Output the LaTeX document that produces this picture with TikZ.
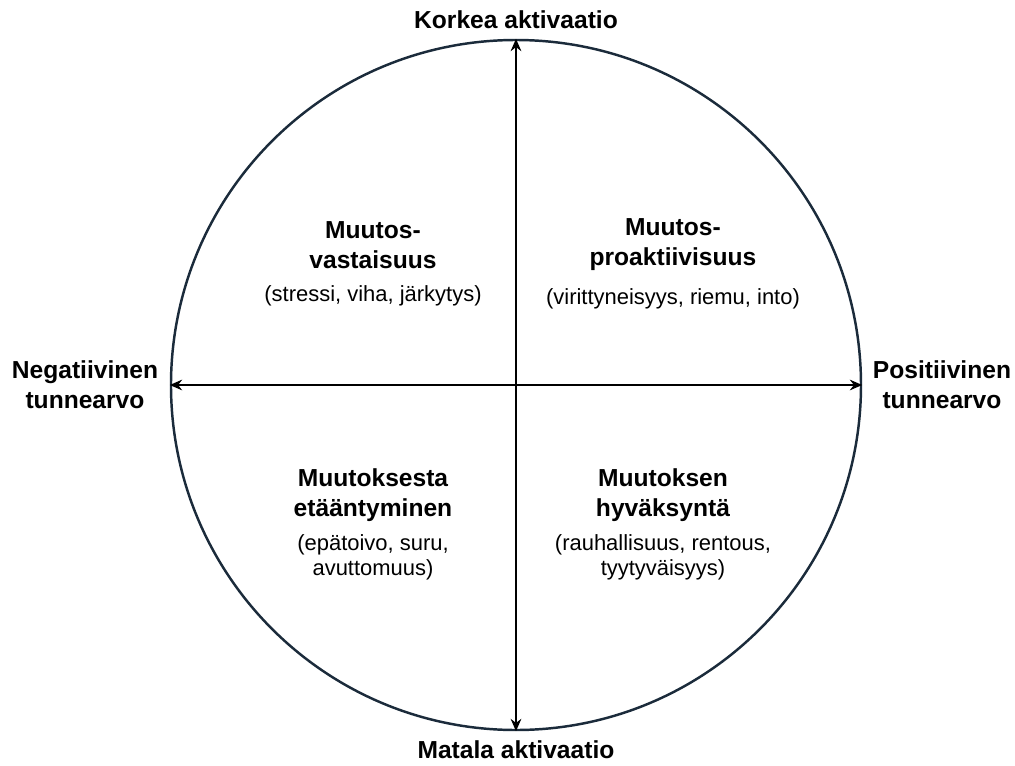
\documentclass[tikz,border=0pt]{standalone}
\usepackage{fontspec}
\setmainfont{Liberation Sans}
\usepackage{tikz}
\usetikzlibrary{arrows.meta,positioning}
\definecolor{ringblue}{HTML}{1B2B3B}

\begin{document}
\begin{tikzpicture}[x=0.02cm,y=0.02cm,
		title/.style={font=\bfseries\fontsize{14}{17}\selectfont,align=center,inner sep=0pt},
		sub/.style={font=\fontsize{12.5}{14.2}\selectfont,align=center,inner sep=0pt},
		axis/.style={line width=1.2pt,{Stealth[length=7pt,width=6pt]}-{Stealth[length=7pt,width=6pt]}}]
				\useasboundingbox (-516,-380) rectangle (499,385);
				\node[circle,draw=ringblue,line width=1.4pt,minimum size=690*0.02cm,inner sep=0pt] (ring) at (0,0) {};
				\draw[axis] (ring.south) -- (ring.north);
				\draw[axis] (ring.west) -- (ring.east);
				% axis labels
				\node[title] (high) at (0,365) {Korkea aktivaatio};
				\node[title] (low) at (0,-365) {Matala aktivaatio};
				\node[title] (neg) at (-431,0) {Negatiivinen\\tunnearvo};
				\node[title] (pos) at (426,0) {Positiivinen\\tunnearvo};
				% quadrants
				\node[title] (resist) at (-143,140) {Muutos-\\vastaisuus};
				\node[sub,below=9.5pt of resist] (resistsub) {(stressi, viha, järkytys)};
				\node[title] (proact) at (157,140) {Muutos-\\proaktiivisuus};
				\node[sub,below=9.5pt of proact] (proactsub) {(virittyneisyys, riemu, into)};
				\node[title] (detach) at (-143,-110) {Muutoksesta\\etääntyminen};
				\node[sub,below=7pt of detach] (detachsub) {(epätoivo, suru,\\avuttomuus)};
				\node[title] (accept) at (147,-110) {Muutoksen\\hyväksyntä};
				\node[sub,below=7pt of accept] (acceptsub) {(rauhallisuus, rentous,\\tyytyväisyys)};
			\end{tikzpicture}
\end{document}
